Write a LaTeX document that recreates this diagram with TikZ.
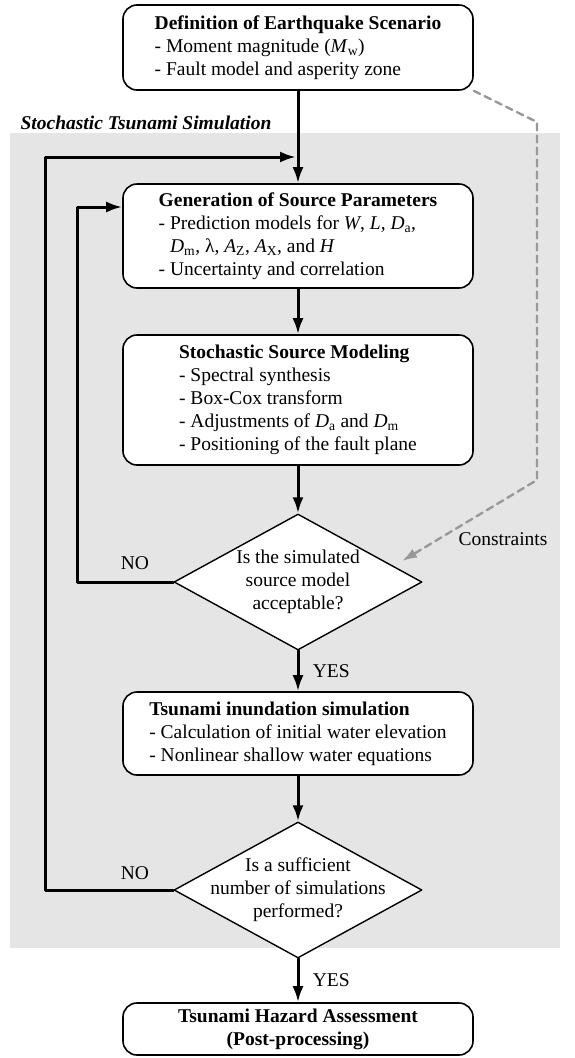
\documentclass[tikz,border=0pt]{standalone}
\usepackage{fontspec}
\setmainfont{Liberation Serif}
\usetikzlibrary{shapes.geometric}
\usetikzlibrary{arrows.meta}
\usetikzlibrary{positioning}

\begin{document}
\begin{tikzpicture}[
        x=1pt, y=-1pt,
        line cap=round,
        line join=round,
        font=\fontsize{19.5}{23}\selectfont,
        box/.style={draw, line width=1.6pt, fill=white, rounded corners=14pt,
            minimum width=350pt, align=left, inner ysep=4pt},
        dec/.style={draw, diamond, line width=1.4pt, fill=white,
            minimum width=248pt, minimum height=136pt, inner sep=0pt},
        qtext/.style={align=center, inner sep=0pt},
        flow/.style={line width=3pt, -{Latex[length=16pt, width=11pt]}},
        vinc/.style={line width=2.4pt, gray!80, dash pattern=on 7pt off 5pt,
            -{Latex[length=15pt, width=10pt]}}
    ]
        \useasboundingbox (0,0) rectangle (574,1058);

        % sfondo della simulazione
        \fill[gray!20] (10,133) rectangle (560,948);
        \node[font=\fontsize{19.5}{23}\selectfont\bfseries\itshape] (titolo) at (146,123) {Stochastic Tsunami Simulation};

        % riquadri
        \node[box, minimum height=85pt] (scen) at (298,47.5) {\textbf{Definition of Earthquake Scenario}\\
            - Moment magnitude (\textit{M}\textsubscript{w})\\
            - Fault model and asperity zone};
        \node[box, minimum height=104pt] (param) at (298,236) {\textbf{Generation of Source Parameters}\\
            - Prediction models for \textit{W}, \textit{L}, \textit{D}\textsubscript{a},\\
            \hphantom{-}\ \textit{D}\textsubscript{m}, λ, \textit{A}\textsubscript{Z}, \textit{A}\textsubscript{X}, and \textit{H}\\
            - Uncertainty and correlation};
        \node[box, minimum height=130pt] (sorg) at (298,400) {\textbf{Stochastic Source Modeling}\\
            - Spectral synthesis\\
            - Box-Cox transform\\
            - Adjustments of \textit{D}\textsubscript{a} and \textit{D}\textsubscript{m}\\
            - Positioning of the fault plane};
        \node[dec] (q1) at (298,582) {};
        \node[qtext] (q1t) at (q1) {Is the simulated\\source model\\acceptable?};
        \node[box, minimum height=83pt] (inond) at (298,733.5) {\textbf{Tsunami inundation simulation}\\
            - Calculation of initial water elevation\\
            - Nonlinear shallow water equations};
        \node[dec] (q2) at (298,890) {};
        \node[qtext] (q2t) at (q2) {Is a sufficient\\number of simulations\\performed?};
        \node[box, minimum height=52pt, align=center, font=\fontsize{19.5}{23}\selectfont\bfseries] (haz) at (298,1029) {Tsunami Hazard Assessment\\(Post-processing)};

        % frecce principali
        \draw[flow] (scen) -- (param);
        \draw[flow] (param) -- (sorg);
        \draw[flow] (sorg) -- (q1);
        \draw[flow] (q1) -- node[right=10pt] (si1) {YES} (inond);
        \draw[flow] (inond) -- (q2);
        \draw[flow] (q2) -- node[right=10pt] (si2) {YES} (haz);

        % anelli di ritorno
        \coordinate (k1) at (45,157);
        \coordinate (ritorno) at (298,157);
        \draw[flow, shorten >=2pt] (q2.west) -| (k1) -- (ritorno);
        \node (no2) at (135,873) {NO};

        \coordinate (k2) at (77,207);
        \draw[flow] (q1.west) -| (k2) -- (k2 -| param.west);
        \node (no1) at (135,563) {NO};

        % vincoli
        \coordinate (d1) at (537,122);
        \coordinate (d2) at (537,480);
        \coordinate (d3) at (402,561);
        \draw[vinc] (scen.south east) -- (d1) -- (d2) -- (d3);
        \node (vincoli) at (503,539) {Constraints};
    \end{tikzpicture}
\end{document}
